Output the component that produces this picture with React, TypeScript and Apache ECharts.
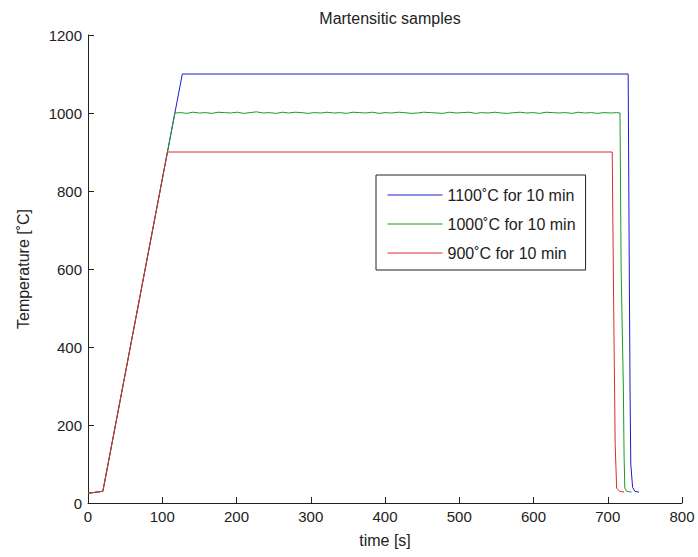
import React, { useEffect, useRef } from "react";
import * as echarts from "echarts";

const titleText = "Martensitic samples";
const xName = "time [s]";
const yName = "Temperature [˚C]";
const seriesNames = ["1100˚C for 10 min", "1000˚C for 10 min", "900˚C for 10 min"];
const colors = ["#1c1cd0", "#1f9a1f", "#e02a2a"];

const blue: [number, number][] = [
  [0, 25], [20, 30], [127, 1100], [727.5, 1100], [729, 600], [730, 300],
  [731, 100], [733.5, 40], [736.5, 30], [742, 28],
];

const greenPlateauTimes = [
  125, 133, 141, 150, 158, 167, 175, 184, 192, 201, 210, 218, 227, 236, 244, 253,
  262, 270, 279, 288, 296, 305, 314, 322, 331, 340, 348, 357, 366, 374, 383, 392,
  400, 409, 418, 426, 435, 444, 452, 461, 470, 478, 487, 496, 504, 513, 522, 530,
  539, 548, 556, 565, 574, 582, 591, 600, 608, 617, 626, 634, 643, 652, 660, 669,
  678, 686, 695, 704, 712,
];
const greenPlateauValues = [
  1001, 999, 1002, 1000, 1001, 999, 1002, 1001, 1000, 1002, 999, 1001, 1003, 1000,
  1001, 999, 1002, 1000, 1002, 1001, 999, 1001, 1000, 1002, 1000, 1001, 999, 1002,
  1001, 1000, 1002, 999, 1001, 1000, 1002, 1001, 999, 1000, 1002, 1001, 1000, 999,
  1002, 1000, 1001, 1002, 999, 1001, 1000, 1002, 1000, 999, 1001, 1002, 1000, 1001,
  999, 1002, 1001, 1000, 1001, 999, 1002, 1000, 1001, 999, 1001, 1000, 1001,
];
const greenStart: [number, number][] = [[0, 25], [20, 30], [117, 1000]];
const greenEnd: [number, number][] = [
  [716.5, 1000], [718, 600], [721, 300], [722, 120], [723, 38], [725.5, 30], [732, 28],
];

const red: [number, number][] = [
  [0, 25], [20, 30], [107, 900], [706, 900], [708, 500], [710, 150],
  [712, 38], [716, 30], [722, 28],
];

export default function App() {
  const ref = useRef<HTMLDivElement>(null);
  useEffect(() => {
    if (!ref.current) return;
    const chart = echarts.init(ref.current, null, { renderer: "svg" });
    const green: [number, number][] = [
      ...greenStart,
      ...greenPlateauTimes.map((t, i) => [t, greenPlateauValues[i]] as [number, number]),
      ...greenEnd,
    ];
    const font = "'Liberation Sans', Arial, Helvetica, sans-serif";
    const data = [blue, green, red];
    chart.setOption({
      animation: false,
      backgroundColor: "#ffffff",
      textStyle: { fontFamily: font },
      title: {
        text: titleText,
        left: 385,
        top: 5,
        textAlign: "center",
        textStyle: { fontSize: 16, fontWeight: "normal", color: "#222", fontFamily: font },
      },
      legend: {
        orient: "vertical",
        left: 376,
        top: 175,
        itemWidth: 55,
        itemHeight: 14,
        itemGap: 13,
        padding: [12, 10, 9, 11],
        borderColor: "#222",
        borderWidth: 1,
        backgroundColor: "#fff",
        textStyle: { fontSize: 16, color: "#222", fontFamily: font },
        data: seriesNames.map((n, i) => ({
          name: n,
          itemStyle: { opacity: 0 },
          lineStyle: { color: colors[i], width: 1 },
        })),
      },
      grid: { left: 88, right: 16, top: 35, bottom: 54, containLabel: false },
      xAxis: {
        type: "value",
        min: 0,
        max: 800,
        interval: 100,
        name: xName,
        nameLocation: "middle",
        nameGap: 29,
        nameTextStyle: { fontSize: 16, color: "#222", fontFamily: font },
        axisLine: { show: true, onZero: false, lineStyle: { color: "#222", width: 1 } },
        axisTick: { show: true, inside: true, length: 6, lineStyle: { color: "#222" } },
        axisLabel: { fontSize: 15, color: "#222", margin: 6, fontFamily: font, formatter: (v: number) => String(v) },
        splitLine: { show: false },
      },
      yAxis: {
        type: "value",
        min: 0,
        max: 1200,
        interval: 200,
        name: yName,
        nameLocation: "middle",
        nameGap: 57,
        nameTextStyle: { fontSize: 16, color: "#222", fontFamily: font },
        axisLine: { show: true, onZero: false, lineStyle: { color: "#222", width: 1 } },
        axisTick: { show: true, inside: true, length: 6, lineStyle: { color: "#222" } },
        axisLabel: { fontSize: 15, color: "#222", margin: 6, fontFamily: font, formatter: (v: number) => String(v) },
        splitLine: { show: false },
      },
      series: seriesNames.map((name, i) => ({
        name,
        type: "line",
        data: data[i],
        symbol: "none",
        showSymbol: false,
        color: colors[i],
        lineStyle: { width: 1, color: colors[i] },
      })),
    });
    return () => chart.dispose();
  }, []);
  return <div ref={ref} style={{ position: "absolute", left: 0, top: 0, width: 698, height: 557 }} />;
}
